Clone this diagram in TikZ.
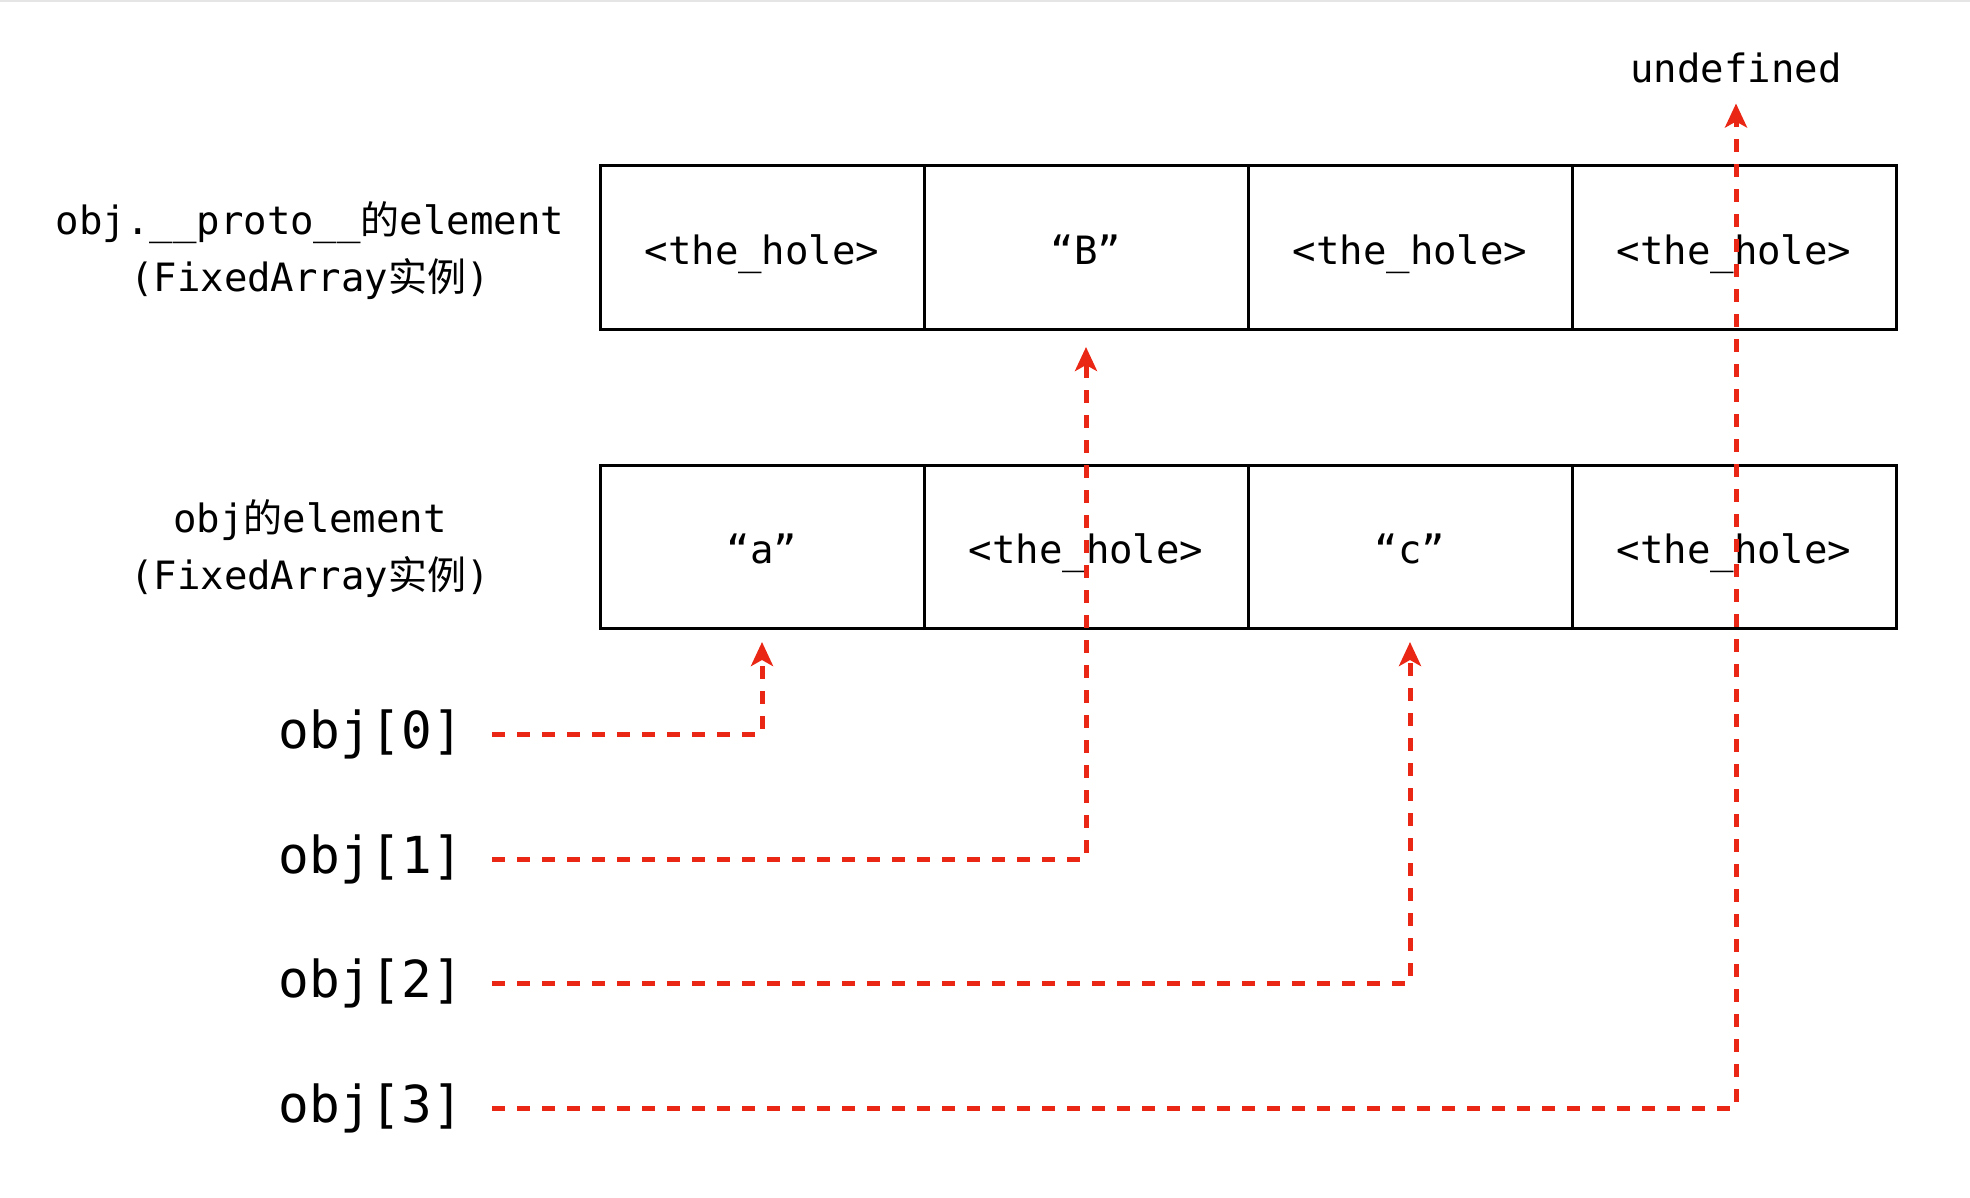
\documentclass[tikz,border=0pt]{standalone}
\usepackage{fontspec}
\setmainfont{DejaVu Sans Mono}
\newfontfamily\cjk{Noto Sans CJK SC}
\usepackage{tikz}
\usetikzlibrary{positioning,arrows.meta}
\definecolor{ptrred}{RGB}{234,38,20}

\begin{document}
\begin{tikzpicture}[x=0.5pt,y=-0.5pt,
    cell/.style={draw, line width=1.5pt, outer sep=0pt, minimum width=162pt, minimum height=81.5pt, text height=17pt, text depth=0pt, font=\fontsize{19.5}{24}\selectfont},
    rowlabel/.style={align=center, font=\fontsize{19.5}{28.5}\selectfont},
    idx/.style={font=\fontsize{25.5}{30}\selectfont},
    ptr/.style={draw=ptrred, line width=2.5pt, dash pattern=on 6.5pt off 6pt, shorten <=11pt, -{Stealth[length=12pt,width=11pt,inset=3pt]}}]
    \useasboundingbox (0,0) rectangle (1970,1198);
    \draw[gray!20, line width=1pt] (0,1) -- (1970,1);

    \node[cell] (p0) at (762,247.5) {<the\_hole>};
    \node[cell, right=0pt of p0] (p1) {“B”};
    \node[cell, right=0pt of p1] (p2) {<the\_hole>};
    \node[cell, right=0pt of p2] (p3) {<the\_hole>};

    \node[cell] (e0) at (762,546.5) {“a”};
    \node[cell, right=0pt of e0] (e1) {<the\_hole>};
    \node[cell, right=0pt of e1] (e2) {“c”};
    \node[cell, right=0pt of e2] (e3) {<the\_hole>};

    \node[rowlabel] (plabel) at (310,251) {obj.\_\_proto\_\_{\cjk 的}element\\(FixedArray{\cjk 实例})};
    \node[rowlabel] (elabel) at (310,549) {obj{\cjk 的}element\\(FixedArray{\cjk 实例})};
    \node[rowlabel, inner sep=0pt] (undef) at (1736,68) {undefined};

    \node[idx] (i0) at (371,734) {obj[0]};
    \node[idx] (i1) at (371,859) {obj[1]};
    \node[idx] (i2) at (371,983) {obj[2]};
    \node[idx] (i3) at (371,1108) {obj[3]};

    \draw[ptr, shorten >=7pt] (i0) -| (e0.south);
    \draw[ptr, shorten >=9pt] (i1) -| (p1.south);
    \draw[ptr, shorten >=7pt] (i2) -| (e2.south);
    \draw[ptr, shorten >=10pt] (i3) -| (undef.south);
\end{tikzpicture}
\end{document}
